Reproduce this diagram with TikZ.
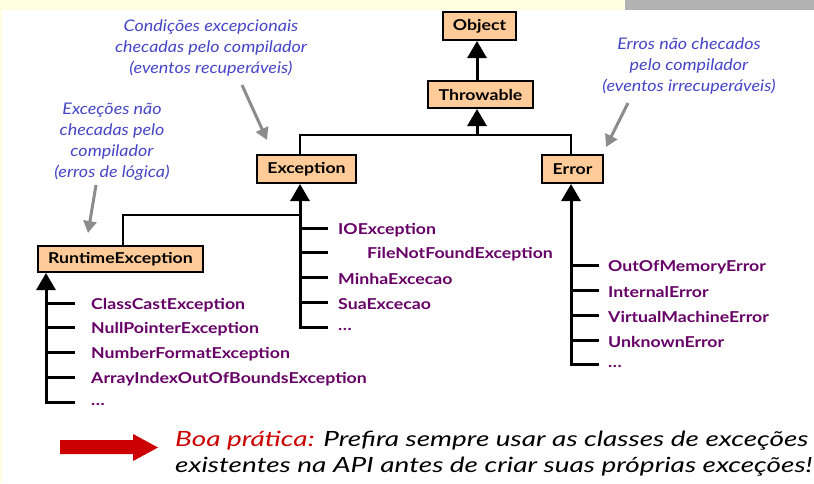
\documentclass[tikz,border=0pt]{standalone}
\usepackage{fontspec}
\setmainfont{Lato}
\newfontfamily\clsfont[FakeStretch=1.18]{Lato}
\newfontfamily\notefont[FakeStretch=1.12]{Lato}
\newfontfamily\tipfont[FakeStretch=1.33]{Lato}
\usetikzlibrary{arrows.meta}
\definecolor{peach}{HTML}{FFCC99}
\definecolor{clsc}{HTML}{660066}
\definecolor{notec}{HTML}{4646C8}
\definecolor{grayarr}{HTML}{8C8C8C}
\definecolor{topyellow}{HTML}{FFFFE0}
\definecolor{topgray}{HTML}{B2B2B2}
\definecolor{darkred}{HTML}{CC0000}
\newcommand{\mydots}{.\kern0.5pt.\kern0.5pt.}
\begin{document}
\begin{tikzpicture}[x=1pt,y=-1pt,
  cbox/.style={draw=black,line width=2pt,fill=peach,inner sep=0pt,font=\clsfont\bfseries\fontsize{15}{17}\selectfont},
  cls/.style={anchor=west,inner sep=0pt,text=clsc,font=\clsfont\bfseries\fontsize{15}{17}\selectfont},
  note/.style={align=center,text=notec,font=\notefont\itshape\fontsize{16}{21}\selectfont,inner sep=0pt},
  shaft/.style={line width=3pt,-{Triangle[width=19pt,length=17pt]}},
  tickline/.style={line width=3pt},
  link/.style={line width=1.2pt},
  hint/.style={line width=3pt,draw=grayarr,-{Triangle[width=13pt,length=12pt]},fill=grayarr},
  tip/.style={inner sep=0pt,anchor=base west,font=\tipfont\itshape\fontsize{21}{24}\selectfont},
]
\useasboundingbox (0,0) rectangle (814,483);
\fill[white] (0,0) rectangle (814,483);
\fill[topyellow] (0,0) rectangle (625,10);
\fill[topgray] (625,0) rectangle (814,10);
\fill[topyellow] (0,0) rectangle (2,483);

% boxes
\node[cbox,minimum width=73pt,minimum height=28pt] (obj) at (479.5,26) {Object};
\node[cbox,minimum width=105pt,minimum height=27pt] (thr) at (480.5,94.5) {Throwable};
\node[cbox,minimum width=99pt,minimum height=28pt] (exc) at (306.5,169) {Exception};
\node[cbox,minimum width=61pt,minimum height=28pt] (err) at (572.5,169) {Error};
\node[cbox,minimum width=165pt,minimum height=26pt] (rt) at (120.5,259) {RuntimeException};

% x positions
\coordinate (ox) at (477,0);
\coordinate (ex) at (300,0);
\coordinate (erx) at (571,0);
\coordinate (rx) at (46,0);
\coordinate (rtop) at (123,0);
\coordinate (bar) at (0,135);
\coordinate (rbar) at (0,215);

% Object <- Throwable
\draw[shaft] (thr.north -| ox) -- (obj.south -| ox);
% bar
\draw[link] (exc.north -| ex) |- (bar -| erx) -- (err.north -| erx);
\draw[shaft] (bar -| ox) -- (thr.south -| ox);
% Runtime -> Exception shaft
\draw[link] (rt.north -| rtop) |- (rbar -| ex);

% Exception subclasses
\foreach \y/\t/\n/\tx in {228/IOException/e1/338,252/FileNotFoundException/e2/367,277/MinhaExcecao/e3/338,302/SuaExcecao/e4/338,327/\mydots/e5/338}{
  \coordinate (\n s) at (300,\y);
  \node[cls] (\n) at (\tx,\y+2) {\t};
}
\foreach \n in {e1,e2,e3,e4}{\draw[tickline] (\n s) -- ++(28,0);}
\draw[shaft] ([xshift=28pt]e5s) -- (e5s) -- (exc.south -| ex);

% Runtime subclasses
\foreach \y/\t/\n in {303/ClassCastException/r1,327/NullPointerException/r2,352/NumberFormatException/r3,377/ArrayIndexOutOfBoundsException/r4,402/\mydots/r5}{
  \coordinate (\n s) at (46,\y);
  \node[cls] (\n) at (91,\y+2) {\t};
}
\foreach \n in {r1,r2,r3,r4}{\draw[tickline] (\n s) -- ++(29,0);}
\draw[shaft] ([xshift=29pt]r5s) -- (r5s) -- (rt.south -| rx);

% Error subclasses
\foreach \y/\t/\n in {265/OutOfMemoryError/o1,290/InternalError/o2,315/VirtualMachineError/o3,340/UnknownError/o4,364/\mydots/o5}{
  \coordinate (\n s) at (571,\y);
  \node[cls] (\n) at (608,\y+2) {\t};
}
\foreach \n in {o1,o2,o3,o4}{\draw[tickline] (\n s) -- ++(28,0);}
\draw[shaft] ([xshift=28pt]o5s) -- (o5s) -- (err.south -| erx);

% annotations
\node[note] (n1) at (211,48) {Condições excepcionais\\checadas pelo compilador\\(eventos recuperáveis)};
\node[note] (n2) at (112,142) {Exceções não\\checadas pelo\\compilador\\(erros de lógica)};
\node[note] (n3) at (689,66) {Erros não checados\\pelo compilador\\(eventos irrecuperáveis)};
\coordinate (a1s) at (242,85);  \coordinate (a1e) at (267,140);
\coordinate (a2s) at (96,185);  \coordinate (a2e) at (88,233);
\coordinate (a3s) at (628,103); \coordinate (a3e) at (606,147);
\draw[hint] (a1s) -- (a1e);
\draw[hint] (a2s) -- (a2e);
\draw[hint] (a3s) -- (a3e);

% bottom note
\fill[darkred] (60,440) -- (133,440) -- (133,434) -- (158,447.5) -- (133,461) -- (133,454) -- (60,454) -- cycle;
\node[tip] (t1) at (175,446) {\textcolor{darkred}{Boa prática:} Prefira sempre usar as classes de exceções};
\node[tip] (t2) at (175,472) {existentes na API antes de criar suas próprias exceções!};
\end{tikzpicture}
\end{document}
